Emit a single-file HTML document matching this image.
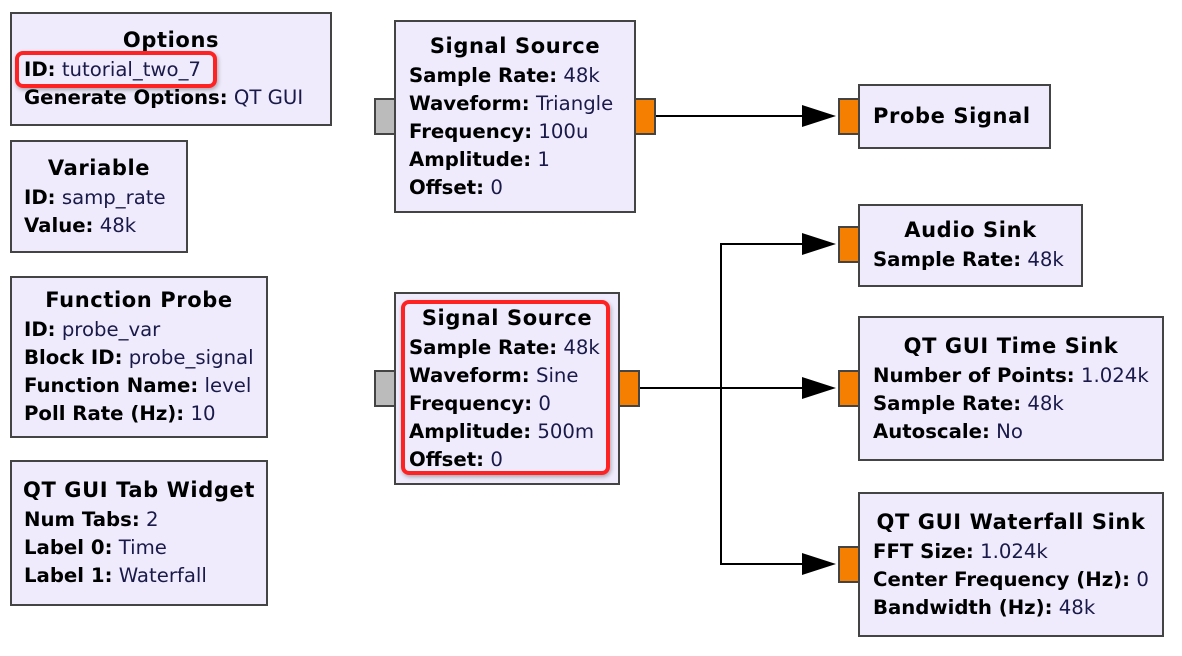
<!DOCTYPE html>
<html><head><meta charset="utf-8"><style>
body{margin:0;width:1182px;height:656px;background:#fff;position:relative;overflow:hidden;font-family:"DejaVu Sans","Liberation Sans",sans-serif;font-size:19.7px;color:#000}
.b{position:absolute;background:#efebfc;border:2px solid #444;box-sizing:border-box}
.t{position:absolute;white-space:nowrap;line-height:28px}
.c{text-align:center;font-weight:bold;left:0;right:0;font-size:21px;letter-spacing:0.6px}
b{font-weight:bold}
.v{color:#1a1a4a}
.p{position:absolute;box-sizing:border-box;border:2px solid #444}
.o{background:#f57f00}
.g{background:#bbb}
.r{position:absolute;border:4px solid #f22;border-radius:8px;box-sizing:border-box;box-shadow:1px 2px 4px rgba(0,0,0,.3)}
</style></head><body>
<svg width="1182" height="656" style="position:absolute;left:0;top:0">
<g stroke="#000" stroke-width="2" fill="none">
<line x1="655" y1="116" x2="810" y2="116"/>
<line x1="639" y1="388" x2="810" y2="388"/>
<polyline points="810,244 721,244 721,564 810,564"/>
</g>
<g fill="#000">
<polygon points="802,105 836,116 802,127"/>
<polygon points="802,233 836,244 802,255"/>
<polygon points="802,377 836,388 802,399"/>
<polygon points="802,553 836,564 802,575"/>
</g>
</svg>

<div class="b" style="left:10px;top:12px;width:322px;height:114px">
<div class="t c" style="top:12px">Options</div>
<div class="t" style="left:12px;top:42px"><b>ID:</b> <span class="v">tutorial_two_7</span></div>
<div class="t" style="left:12px;top:70px"><b>Generate Options:</b> <span class="v">QT GUI</span></div>
</div>
<div class="r" style="left:15px;top:51px;width:202px;height:37px"></div>

<div class="b" style="left:10px;top:140px;width:178px;height:113px">
<div class="t c" style="top:12px">Variable</div>
<div class="t" style="left:12px;top:42px"><b>ID:</b> <span class="v">samp_rate</span></div>
<div class="t" style="left:12px;top:70px"><b>Value:</b> <span class="v">48k</span></div>
</div>

<div class="b" style="left:10px;top:276px;width:258px;height:162px">
<div class="t c" style="top:8px">Function Probe</div>
<div class="t" style="left:12px;top:38px"><b>ID:</b> <span class="v">probe_var</span></div>
<div class="t" style="left:12px;top:66px"><b>Block ID:</b> <span class="v">probe_signal</span></div>
<div class="t" style="left:12px;top:94px"><b>Function Name:</b> <span class="v">level</span></div>
<div class="t" style="left:12px;top:122px"><b>Poll Rate (Hz):</b> <span class="v">10</span></div>
</div>

<div class="b" style="left:10px;top:460px;width:258px;height:146px">
<div class="t c" style="top:14px">QT GUI Tab Widget</div>
<div class="t" style="left:12px;top:44px"><b>Num Tabs:</b> <span class="v">2</span></div>
<div class="t" style="left:12px;top:72px"><b>Label 0:</b> <span class="v">Time</span></div>
<div class="t" style="left:12px;top:100px"><b>Label 1:</b> <span class="v">Waterfall</span></div>
</div>

<div class="p g" style="left:374px;top:98px;width:22px;height:37px"></div>
<div class="p o" style="left:634px;top:98px;width:22px;height:37px"></div>
<div class="b" style="left:394px;top:20px;width:242px;height:193px">
<div class="t c" style="top:10px">Signal Source</div>
<div class="t" style="left:13px;top:40px"><b>Sample Rate:</b> <span class="v">48k</span></div>
<div class="t" style="left:13px;top:68px"><b>Waveform:</b> <span class="v">Triangle</span></div>
<div class="t" style="left:13px;top:96px"><b>Frequency:</b> <span class="v">100u</span></div>
<div class="t" style="left:13px;top:124px"><b>Amplitude:</b> <span class="v">1</span></div>
<div class="t" style="left:13px;top:152px"><b>Offset:</b> <span class="v">0</span></div>
</div>

<div class="p g" style="left:374px;top:370px;width:22px;height:37px"></div>
<div class="p o" style="left:618px;top:370px;width:22px;height:37px"></div>
<div class="b" style="left:394px;top:292px;width:226px;height:193px">
<div class="t c" style="top:10px">Signal Source</div>
<div class="t" style="left:13px;top:40px"><b>Sample Rate:</b> <span class="v">48k</span></div>
<div class="t" style="left:13px;top:68px"><b>Waveform:</b> <span class="v">Sine</span></div>
<div class="t" style="left:13px;top:96px"><b>Frequency:</b> <span class="v">0</span></div>
<div class="t" style="left:13px;top:124px"><b>Amplitude:</b> <span class="v">500m</span></div>
<div class="t" style="left:13px;top:152px"><b>Offset:</b> <span class="v">0</span></div>
</div>
<div class="r" style="left:401px;top:300px;width:209px;height:175px"></div>

<div class="p o" style="left:838px;top:98px;width:22px;height:37px"></div>
<div class="b" style="left:858px;top:84px;width:193px;height:65px">
<div class="t" style="left:13px;top:16px;font-size:21px;letter-spacing:0.6px"><b>Probe Signal</b></div>
</div>

<div class="p o" style="left:838px;top:226px;width:22px;height:37px"></div>
<div class="b" style="left:858px;top:204px;width:225px;height:83px">
<div class="t c" style="top:10px">Audio Sink</div>
<div class="t" style="left:13px;top:40px"><b>Sample Rate:</b> <span class="v">48k</span></div>
</div>

<div class="p o" style="left:838px;top:370px;width:22px;height:37px"></div>
<div class="b" style="left:858px;top:316px;width:306px;height:145px">
<div class="t c" style="top:14px">QT GUI Time Sink</div>
<div class="t" style="left:13px;top:44px"><b>Number of Points:</b> <span class="v">1.024k</span></div>
<div class="t" style="left:13px;top:72px"><b>Sample Rate:</b> <span class="v">48k</span></div>
<div class="t" style="left:13px;top:100px"><b>Autoscale:</b> <span class="v">No</span></div>
</div>

<div class="p o" style="left:838px;top:546px;width:22px;height:37px"></div>
<div class="b" style="left:858px;top:492px;width:306px;height:145px">
<div class="t c" style="top:14px">QT GUI Waterfall Sink</div>
<div class="t" style="left:13px;top:44px"><b>FFT Size:</b> <span class="v">1.024k</span></div>
<div class="t" style="left:13px;top:72px"><b>Center Frequency (Hz):</b> <span class="v">0</span></div>
<div class="t" style="left:13px;top:100px"><b>Bandwidth (Hz):</b> <span class="v">48k</span></div>
</div>
</body></html>
